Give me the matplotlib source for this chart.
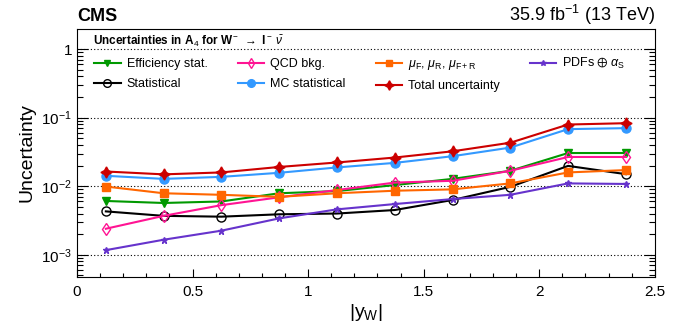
import numpy as np
import matplotlib
matplotlib.use("Agg")
import matplotlib.pyplot as plt
from matplotlib.ticker import FixedLocator, FixedFormatter, MultipleLocator, LogLocator, NullFormatter

plt.rcParams['font.family'] = ['Liberation Sans', 'DejaVu Sans']
plt.rcParams['mathtext.fontset'] = 'custom'
plt.rcParams['mathtext.rm'] = 'Liberation Sans'
plt.rcParams['mathtext.it'] = 'Liberation Sans:italic'
plt.rcParams['mathtext.bf'] = 'Liberation Sans:bold'
plt.rcParams['mathtext.fallback'] = 'stixsans'

# |y_W| bin centres
y_w = [0.125, 0.375, 0.625, 0.875, 1.125, 1.375, 1.625, 1.875, 2.125, 2.375]

eff_stat = [0.0061, 0.0057, 0.0060, 0.0079, 0.0085, 0.0104, 0.0128, 0.0168, 0.0305, 0.0305]
statistical = [0.0043, 0.0037, 0.0036, 0.0039, 0.0040, 0.0045, 0.0063, 0.0098, 0.0198, 0.0150]
qcd_bkg = [0.0024, 0.0037, 0.0053, 0.0069, 0.0088, 0.0113, 0.0120, 0.0168, 0.0267, 0.0267]
mc_stat = [0.0142, 0.0128, 0.0137, 0.0157, 0.0188, 0.0219, 0.0274, 0.0366, 0.0680, 0.0703]
scales = [0.0099, 0.0079, 0.0075, 0.0070, 0.0079, 0.0086, 0.0090, 0.0110, 0.0159, 0.0172]
total = [0.0164, 0.0149, 0.0159, 0.0191, 0.0222, 0.0262, 0.0323, 0.0431, 0.0794, 0.0830]
pdfs = [0.00117, 0.00166, 0.00225, 0.0034, 0.0046, 0.0055, 0.0065, 0.0075, 0.0110, 0.0108]

fig = plt.figure(figsize=(6.75, 3.24), dpi=100)
ax = fig.add_axes([0.114, 0.146, 0.856, 0.764])

lw = 1.5
h_eff, = ax.plot(y_w, eff_stat, color='#009900', marker='v', ms=5.5, lw=lw, label='Efficiency stat.')
h_stat, = ax.plot(y_w, statistical, color='black', marker='o', ms=6.5, mfc='none', mew=1.0, lw=lw, label='Statistical')
h_qcd, = ax.plot(y_w, qcd_bkg, color='#ff1493', marker='d', ms=6, mfc='none', mew=1.0, lw=lw, label='QCD bkg.')
h_mc, = ax.plot(y_w, mc_stat, color='#3399ff', marker='o', ms=6.5, lw=lw, label='MC statistical')
h_sc, = ax.plot(y_w, scales, color='#ff6600', marker='s', ms=5.5, lw=lw,
                label=r'$\mu_{\mathrm{F}}$, $\mu_{\mathrm{R}}$, $\mu_{\mathrm{F+R}}$')
h_tot, = ax.plot(y_w, total, color='#cc0000', marker=(4, 1, 0), ms=8, lw=lw, label='Total uncertainty')
h_pdf, = ax.plot(y_w, pdfs, color='#6633cc', marker='*', ms=4.5, lw=lw, label=r'PDFs $\oplus$ $\alpha_{\mathrm{S}}$')

ax.set_yscale('log')
ax.set_xlim(0, 2.5)
ax.set_ylim(4.8e-4, 1.95)

ax.yaxis.set_major_locator(FixedLocator([1e-3, 1e-2, 1e-1, 1]))
ax.yaxis.set_major_formatter(FixedFormatter([r'$10^{-3}$', r'$10^{-2}$', r'$10^{-1}$', '1']))
ax.yaxis.set_minor_locator(LogLocator(base=10, subs=np.arange(2, 10)))
ax.yaxis.set_minor_formatter(NullFormatter())
ax.xaxis.set_major_locator(MultipleLocator(0.5))
ax.xaxis.set_minor_locator(MultipleLocator(0.1))
ax.xaxis.set_major_formatter(matplotlib.ticker.FuncFormatter(lambda v, p: '%g' % v))

ax.tick_params(which='both', direction='in', left=True, right=True, top=False, bottom=True, labelsize=11)
ax.tick_params(which='major', length=8, width=0.8)
ax.tick_params(which='minor', length=4, width=0.8)
ax.tick_params(axis='x', which='major', length=6, pad=6)
ax.tick_params(axis='x', which='minor', length=3)

ax.grid(axis='y', which='major', ls=(0, (1, 2)), color='black', lw=0.8)

ax.set_ylabel('Uncertainty', fontsize=14)
ax.set_xlabel(r'$|\mathrm{y}_{\mathrm{W}}|$', fontsize=14, labelpad=2)

fig.text(0.114, 0.935, 'CMS', fontsize=13, fontweight='bold', ha='left', va='baseline')
fig.text(0.970, 0.935, r'35.9 fb$^{-1}$ (13 TeV)', fontsize=13, ha='right', va='baseline')

ax.text(0.027, 0.935, r'Uncertainties in A$_4$ for W$^-$ $\rightarrow$ l$^-$ $\bar{\nu}$',
        transform=ax.transAxes, fontsize=8.5, fontweight='bold', ha='left', va='baseline')

ax.legend(handles=[h_eff, h_stat, h_qcd, h_mc, h_sc, h_tot, h_pdf], ncol=4,
          loc='upper left', bbox_to_anchor=(0.03, 0.89), frameon=False, fontsize=9,
          handlelength=2.1, handletextpad=0.5, columnspacing=2.4, labelspacing=0.6,
          borderpad=0, borderaxespad=0, markerscale=0.85)

fig.savefig('out.png', dpi=100)
